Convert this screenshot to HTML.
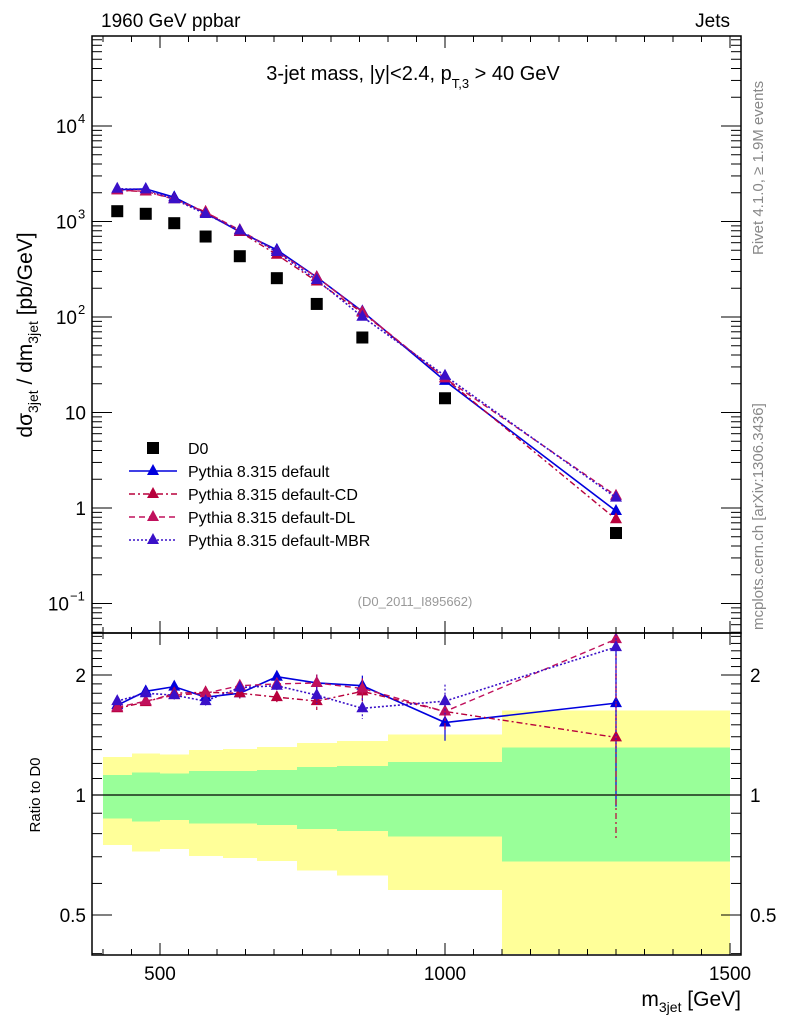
<!DOCTYPE html>
<html><head><meta charset="utf-8"><style>
body{margin:0;background:#fff}
svg text{font-family:"Liberation Sans",sans-serif}
</style></head><body>
<svg id="c" width="786" height="1024" xmlns="http://www.w3.org/2000/svg">
<g id="bands" shape-rendering="crispEdges"></g>
<g id="grid"></g>
<g id="series"></g>
<rect x="92" y="36" width="649" height="597" fill="none" stroke="#000" stroke-width="1.5"/>
<rect x="92" y="633" width="649" height="322" fill="none" stroke="#000" stroke-width="1.5"/>
<text x="101" y="27" font-size="19">1960 GeV ppbar</text>
<text x="730" y="27" font-size="19" text-anchor="end">Jets</text>
<text x="413" y="80" font-size="20" text-anchor="middle">3-jet mass, |y|&lt;2.4, p<tspan font-size="13" dy="8">T,3</tspan><tspan dy="-8"> &gt; 40 GeV</tspan></text>
<text x="415" y="606" font-size="13" fill="#999" text-anchor="middle">(D0_2011_I895662)</text>
<text transform="translate(763,255) rotate(-90)" font-size="15" fill="#888">Rivet 4.1.0, ≥ 1.9M events</text>
<text transform="translate(763,630) rotate(-90)" font-size="15" fill="#888">mcplots.cern.ch [arXiv:1306.3436]</text>
<text transform="translate(32,335) rotate(-90)" font-size="21" text-anchor="middle">dσ<tspan font-size="14" dy="6">3jet</tspan><tspan dy="-6"> / dm</tspan><tspan font-size="14" dy="6">3jet</tspan><tspan dy="-6"> [pb/GeV]</tspan></text>
<text transform="translate(40,795) rotate(-90)" font-size="15" text-anchor="middle">Ratio to D0</text>
<text x="741" y="1006" font-size="21" text-anchor="end">m<tspan font-size="14" dy="6">3jet</tspan><tspan dy="-6"> [GeV]</tspan></text>
<g id="legend"></g>
</svg>
<script>
const edges=[400,450,500,550,610,670,740,810,900,1100,1500];
const mass=[425,475,525,580,640,705,775,855,1000,1300];
const d0=[1282,1204,960,696,433,255,137,61,14.1,0.547];
const ratioDefault=[1.68,1.82,1.87,1.76,1.80,1.98,1.91,1.88,1.52,1.70];
const ratioCD=[1.65,1.71,1.80,1.81,1.80,1.76,1.72,1.82,1.62,1.395];
const ratioDL=[1.66,1.72,1.78,1.80,1.88,1.90,1.91,1.85,1.62,2.46];
const ratioMBR=[1.72,1.80,1.78,1.72,1.86,1.88,1.78,1.65,1.72,2.35];
const errRel=[0.02,0.02,0.025,0.025,0.03,0.035,0.05,0.06,0.1,0.45];
const yellowHi=[1.245,1.272,1.265,1.297,1.304,1.32,1.352,1.365,1.42,1.63];
const greenHi=[1.122,1.14,1.131,1.149,1.149,1.157,1.175,1.184,1.21,1.317];
const greenLo=[0.874,0.857,0.866,0.847,0.847,0.841,0.822,0.812,0.786,0.682];
const yellowLo=[0.749,0.722,0.732,0.703,0.695,0.684,0.646,0.628,0.578,0.38];
const ns="http://www.w3.org/2000/svg";
const X=m=>160+(m-500)*0.57;
const Y=v=>508-95.5*Math.log10(v);
const R=r=>{let y=795-120*Math.log2(r);return Math.max(634,Math.min(954,y));};
function mk(t,a,p){const e=document.createElementNS(ns,t);for(const k in a)e.setAttribute(k,a[k]);(p||document.getElementById('series')).appendChild(e);return e;}
const B=document.getElementById('bands');
for(let i=0;i<mass.length;i++){
 const x0=Math.round(X(edges[i])),w=Math.round(X(edges[i+1]))-x0;
 let e=mk('rect',{x:x0,y:R(yellowHi[i]),width:w,height:R(yellowLo[i])-R(yellowHi[i]),fill:'#ffff99'},B);
 
 
 e=mk('rect',{x:x0,y:R(greenHi[i]),width:w,height:R(greenLo[i])-R(greenHi[i]),fill:'#99ff99'},B);
 
 
}
const G=document.getElementById('grid');
mk('line',{x1:92,x2:741,y1:R(1),y2:R(1),stroke:'#000','stroke-width':1.2},G);
for(let m=400;m<=1500;m+=50){const x=X(m);if(x<92||x>741)continue;const L=(m%500==0)?12:6;
 for(const [y0,d] of [[36,1],[633,-1],[633,1],[955,-1]]) mk('line',{x1:x,x2:x,y1:y0,y2:y0+d*L,stroke:'#000'},G);}
[500,1000,1500].forEach(m=>{const t=mk('text',{x:X(m),y:980,'font-size':19,'text-anchor':'middle'},G);t.textContent=m;});
for(let d=-2;d<=4;d++)for(let k=1;k<10;k++){const v=k*Math.pow(10,d);const y=Y(v);if(y<36||y>633)continue;const L=k==1?20:10;
 mk('line',{x1:92,x2:92+L,y1:y,y2:y,stroke:'#000'},G);mk('line',{x1:741,x2:741-L,y1:y,y2:y,stroke:'#000'},G);}
const ylab=[[0.1,'10','−1'],[1,'1',''],[10,'10',''],[100,'10','2'],[1000,'10','3'],[10000,'10','4']];
ylab.forEach(([v,b,s])=>{const t=mk('text',{x:s?(s.length>1?69:77):86,y:Y(v)+7,'font-size':19,'text-anchor':'end'},G);t.textContent=b;
 
 if(s){const u=mk('text',{x:s.length>1?70:78,y:Y(v)-3,'font-size':13},G);u.textContent=s;}});
[0.4,0.5,0.6,0.7,0.8,0.9,1,1.1,1.2,1.3,1.4,1.5,1.6,1.7,1.8,1.9,2,2.1,2.2,2.3,2.4,2.5].forEach(r=>{const y=R(r);if(y<=634||y>=954)return;const L=(r==0.5||r==1||r==2)?20:10;
 mk('line',{x1:92,x2:92+L,y1:y,y2:y,stroke:'#000'},G);mk('line',{x1:741,x2:741-L,y1:y,y2:y,stroke:'#000'},G);});
[[0.5,'0.5'],[1,'1'],[2,'2']].forEach(([r,s])=>{let t=mk('text',{x:86,y:R(r)+7,'font-size':19,'text-anchor':'end'},G);t.textContent=s;
 t=mk('text',{x:750,y:R(r)+7,'font-size':19},G);t.textContent=s;});
const series=[
 {n:'pythia-default',r:ratioDefault,c:'#0000dd',dash:'',w:1.6},
 {n:'pythia-default-cd',r:ratioCD,c:'#b8003c',dash:'6,3,2,3',w:1.4},
 {n:'pythia-default-dl',r:ratioDL,c:'#c0105c',dash:'6,4',w:1.4},
 {n:'pythia-default-mbr',r:ratioMBR,c:'#3a10c8',dash:'2,2',w:1.6}];
function tri(x,y,c,p){return mk('polygon',{points:`${x},${y-7} ${x-6},${y+4} ${x+6},${y+4}`,fill:c},p);}
series.forEach(s=>{
 const g=mk('g',{});
 const mv=mass.map((m,i)=>d0[i]*s.r[i]);
 mk('polyline',{points:mass.map((m,i)=>X(m)+','+Y(mv[i])).join(' '),fill:'none',stroke:s.c,'stroke-width':s.w,'stroke-dasharray':s.dash},g);
 mk('polyline',{points:mass.map((m,i)=>X(m)+','+R(s.r[i])).join(' '),fill:'none',stroke:s.c,'stroke-width':s.w,'stroke-dasharray':s.dash},g);
 mass.forEach((m,i)=>{const x=X(m);
  mk('line',{x1:x,x2:x,y1:R(s.r[i]*(1+errRel[i])),y2:R(s.r[i]*(1-errRel[i])),stroke:s.c,'stroke-width':1.2,'stroke-dasharray':s.dash},g);
  let t=tri(x,Y(mv[i]),s.c,g);
  t=tri(x,R(s.r[i]),s.c,g);});
});
mass.forEach((m,i)=>{const e=mk('rect',{x:X(m)-6,y:Y(d0[i])-6,width:12,height:12,fill:'#000'});
 });
const Lg=document.getElementById('legend');
const labels=['D0','Pythia 8.315 default','Pythia 8.315 default-CD','Pythia 8.315 default-DL','Pythia 8.315 default-MBR'];
labels.forEach((l,i)=>{const y=448+i*23;
 if(i==0)mk('rect',{x:147,y:y-6,width:12,height:12,fill:'#000'},Lg);
 else{const s=series[i-1];mk('line',{x1:129,x2:177,y1:y,y2:y,stroke:s.c,'stroke-width':s.w,'stroke-dasharray':s.dash},Lg);tri(153,y,s.c,Lg);}
 const t=mk('text',{x:188,y:y+6,'font-size':16},Lg);t.textContent=l;
 });
</script>
</body></html>
